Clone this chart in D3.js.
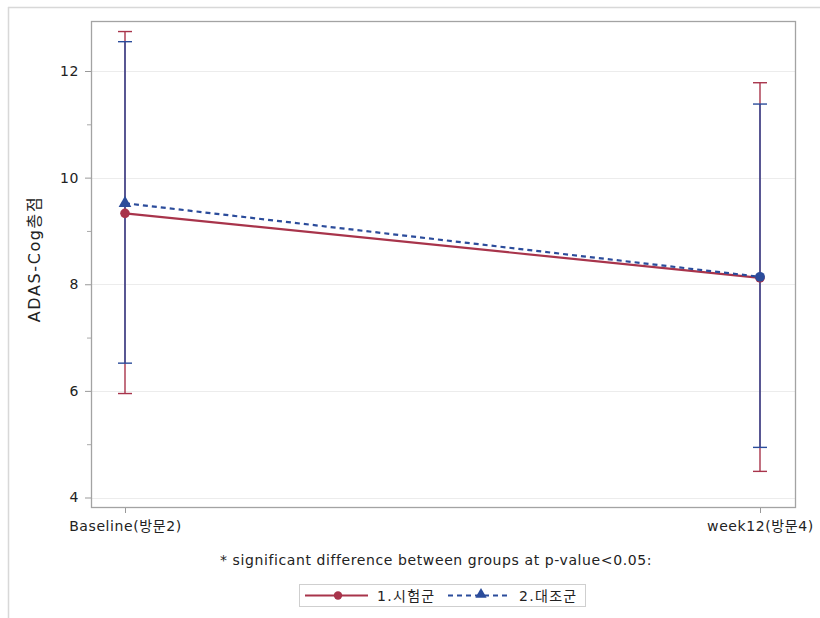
<!DOCTYPE html>
<html>
<head>
<meta charset="utf-8">
<script src="https://cdn.jsdelivr.net/npm/d3@7/dist/d3.min.js"></script>
<style>
  html, body { margin: 0; padding: 0; background: #fff; }
  svg text { font-family: "DejaVu Sans", "Noto Sans CJK KR", sans-serif; fill: #222; }
</style>
</head>
<body>
<svg id="chart" width="820" height="618"></svg>
<script>
// Visits on the x axis
const visits = ["Baseline(방문2)", "week12(방문4)"];
// Group labels
const groups = ["1.시험군", "2.대조군"];
// Mean ADAS-Cog total score per visit
const meanTest = [9.33, 8.12];
const meanCtrl = [9.52, 8.14];
// Error bar limits per visit
const lowTest = [5.95, 4.49];
const highTest = [12.74, 11.78];
const lowCtrl = [6.52, 4.94];
const highCtrl = [12.55, 11.38];
// Axis ticks
const yMajorTicks = [4, 6, 8, 10, 12];
const yMinorTicks = [5, 7, 9, 11];

const colTest = "#a8344b";
const colCtrl = "#2b4c9b";

const svg = d3.select("#chart");
const m = { left: 91, right: 795, top: 21, bottom: 507 };

// Outer figure frame (top and left edges)
svg.append("line").attr("x1", 8).attr("x2", 820).attr("y1", 7.5).attr("y2", 7.5)
  .attr("stroke", "#d8d8d8").attr("stroke-width", 1.5);
svg.append("line").attr("x1", 8.5).attr("x2", 8.5).attr("y1", 7).attr("y2", 618)
  .attr("stroke", "#d8d8d8").attr("stroke-width", 1.5);

const x = d3.scalePoint().domain(visits).range([125, 760]);
const y = d3.scaleLinear().domain([4, 12]).range([497.5, 71]);

// Horizontal grid lines
svg.append("g").selectAll("line").data(yMajorTicks).join("line")
  .attr("x1", m.left).attr("x2", m.right)
  .attr("y1", d => Math.round(y(d)) + 0.5).attr("y2", d => Math.round(y(d)) + 0.5)
  .attr("stroke", "#ececec").attr("stroke-width", 1);

// Y axis
const yAxis = svg.append("g").attr("transform", `translate(${m.left},0)`)
  .call(d3.axisLeft(y).tickValues(yMajorTicks).tickSize(6).tickPadding(6).tickFormat(d3.format("d")));
yAxis.select(".domain").remove();
yAxis.selectAll("line").attr("stroke", "#999");
yAxis.selectAll("text").style("font-size", "14px").style("letter-spacing", "0.6px").attr("fill", "#222");
const yMinor = svg.append("g").attr("transform", `translate(${m.left},0)`)
  .call(d3.axisLeft(y).tickValues(yMinorTicks).tickSize(4).tickFormat(""));
yMinor.select(".domain").remove();
yMinor.selectAll("line").attr("stroke", "#aaa");

// X axis
const xAxis = svg.append("g").attr("transform", `translate(0,${m.bottom})`)
  .call(d3.axisBottom(x).tickSize(6).tickPadding(8));
xAxis.select(".domain").remove();
xAxis.selectAll("line").attr("stroke", "#999");
xAxis.selectAll("text").style("font-size", "14px").style("letter-spacing", "0.6px").attr("fill", "#222");

// Plot frame
svg.append("rect").attr("x", m.left + 0.5).attr("y", m.top + 0.5)
  .attr("width", m.right - m.left).attr("height", m.bottom - m.top)
  .attr("fill", "none").attr("stroke", "#a3a3a3").attr("stroke-width", 1.3);

// Axis title
svg.append("text").attr("transform", `translate(40,259) rotate(-90)`)
  .attr("text-anchor", "middle").style("font-size", "16px").style("letter-spacing", "1.6px")
  .text("ADAS-Cog총점");

// Error bars
function errorBars(low, high, color) {
  const g = svg.append("g").attr("stroke", color).attr("stroke-width", 1.4).attr("fill", "none");
  visits.forEach((v, i) => {
    const cx = x(v);
    g.append("line").attr("x1", cx).attr("x2", cx).attr("y1", y(low[i])).attr("y2", y(high[i]));
    [low[i], high[i]].forEach(val => {
      g.append("line").attr("x1", cx - 7).attr("x2", cx + 7).attr("y1", y(val)).attr("y2", y(val));
    });
  });
}
errorBars(lowTest, highTest, colTest);
errorBars(lowCtrl, highCtrl, colCtrl);

// Mean lines
const line = d3.line().x((d, i) => x(visits[i])).y(d => y(d));
svg.append("path").datum(meanTest).attr("d", line)
  .attr("fill", "none").attr("stroke", colTest).attr("stroke-width", 2.2);
svg.append("path").datum(meanCtrl).attr("d", line)
  .attr("fill", "none").attr("stroke", colCtrl).attr("stroke-width", 2.2)
  .attr("stroke-dasharray", "5,4");

// Markers
svg.append("g").selectAll("circle").data(meanTest).join("circle")
  .attr("cx", (d, i) => x(visits[i])).attr("cy", d => y(d)).attr("r", 4.8)
  .attr("fill", colTest);
const tri = d3.symbol().type(d3.symbolTriangle).size(70);
svg.append("g").selectAll("path").data(meanCtrl).join("path")
  .attr("transform", (d, i) => `translate(${x(visits[i])},${y(d)})`)
  .attr("d", (d, i) => i === 1 ? d3.symbol().type(d3.symbolCircle).size(75)() : tri())
  .attr("fill", colCtrl);

// Footnote
svg.append("text").attr("x", 436).attr("y", 565).attr("text-anchor", "middle")
  .style("font-size", "14px").style("letter-spacing", "0.6px")
  .text("* significant difference between groups at p-value<0.05:");

// Legend
const lg = svg.append("g");
lg.append("rect").attr("x", 299.5).attr("y", 584.5).attr("width", 286).attr("height", 22)
  .attr("fill", "#fff").attr("stroke", "#cfcfcf");
lg.append("line").attr("x1", 305).attr("x2", 368).attr("y1", 595.5).attr("y2", 595.5)
  .attr("stroke", colTest).attr("stroke-width", 2.2);
lg.append("circle").attr("cx", 338).attr("cy", 595.5).attr("r", 4.2).attr("fill", colTest);
lg.append("text").attr("x", 377).attr("y", 601).style("font-size", "14px").style("letter-spacing", "1.3px").text(groups[0]);
lg.append("line").attr("x1", 448).attr("x2", 508).attr("y1", 595.5).attr("y2", 595.5)
  .attr("stroke", colCtrl).attr("stroke-width", 2.2).attr("stroke-dasharray", "5,4");
lg.append("path").attr("transform", "translate(481,594.5)")
  .attr("d", d3.symbol().type(d3.symbolTriangle).size(55)()).attr("fill", colCtrl);
lg.append("text").attr("x", 519).attr("y", 601).style("font-size", "14px").style("letter-spacing", "1.3px").text(groups[1]);
</script>
</body>
</html>
